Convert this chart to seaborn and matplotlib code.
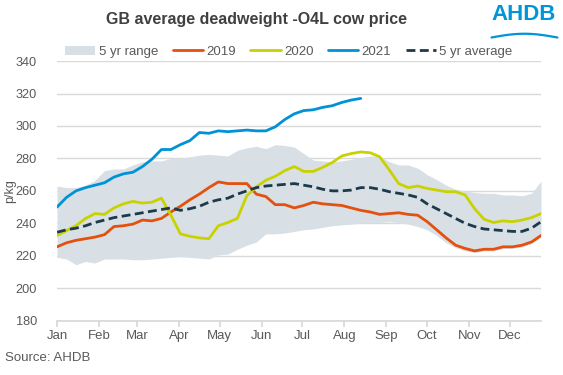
import numpy as np
import pandas as pd
import seaborn as sns
import matplotlib.pyplot as plt
from matplotlib.patches import Patch
from matplotlib.lines import Line2D

# weekly GB deadweight O4L cow prices (p/kg)
weeks = list(range(52))
p2019 = [225.5, 228, 229.5, 230.5, 231.5, 233, 238, 238.5, 239.5, 242, 241.5, 243,
         247, 250.5, 254.5, 258, 262, 265.5, 264.5, 264.5, 264.5, 258, 256.5, 251.5,
         251.5, 249.5, 251, 253, 252, 251.5, 251, 249.5, 248, 247, 245.5, 246,
         246.5, 245.5, 245, 241, 236, 231, 226.5, 224.5, 223, 224, 224, 225.5,
         225.5, 226.5, 228.5, 232.5]
p2020 = [232.5, 235.5, 238.5, 243, 246, 245.5, 249.5, 252, 253.5, 252.5, 253, 255.5,
         245, 233.5, 232, 231, 230.5, 238.5, 240.5, 243, 257, 262.5, 266.5, 269,
         272.5, 275, 272, 272, 274.5, 277.5, 281.5, 283, 284, 283.5, 281, 273,
         264.5, 262, 263, 261.5, 260.5, 259.5, 259.5, 257.5, 249, 242.5, 240.5, 241.5,
         241, 242, 243.5, 246]
p2021 = [250, 256, 260, 262, 263.5, 265, 268.5, 270.5, 271.5, 275, 279.5, 285.5,
         285.5, 288.5, 291, 296, 295.5, 297, 296.5, 297, 297.5, 297, 297, 299.5,
         304, 307.5, 309.5, 310, 311.5, 312.5, 314.5, 316, 317]
avg5 = [234.5, 236, 237, 238.5, 240.5, 242, 243.5, 244.5, 245.5, 246.5, 247.5, 248.5,
        249.5, 248, 249, 250.5, 253, 254.5, 255.5, 258, 260, 262, 263, 263.5,
        264, 264.5, 263.5, 262.5, 261, 260, 260, 260.5, 262, 262, 261, 259.5,
        258.5, 257.5, 256, 252, 249, 246, 243, 240, 238, 236.5, 236, 235.5,
        235, 235, 237, 241]
range_hi = [263, 262, 262, 263.5, 266.5, 272.5, 273.5, 273.5, 276, 278, 278.5, 278.5,
            280, 280, 281, 282, 282.5, 282, 281.5, 285, 286.5, 287.5, 286, 288.5,
            288, 287, 283, 279, 278.5, 278, 278.5, 279.5, 280.5, 281.5, 281.5, 278,
            276, 276, 274, 270, 267, 263.5, 261, 260, 259, 258.5, 258.5, 257.5,
            257.5, 257, 258.5, 266]
range_lo = [219, 218, 214.5, 216.5, 215.5, 218, 218, 218, 217.5, 217.5, 218, 218.5,
            219, 219.5, 219, 218.5, 218, 220.5, 221, 224, 226.5, 228.5, 233.5, 233.5,
            234, 235, 236, 236.5, 237.5, 238.5, 239, 239.5, 240, 240.5, 240.5, 241,
            240.5, 239.5, 238, 236, 232.5, 228, 225, 223, 222, 223, 223, 224.5,
            224.5, 225.5, 227.5, 231.5]
months = ["Jan", "Feb", "Mar", "Apr", "May", "Jun", "Jul", "Aug", "Sep", "Oct", "Nov", "Dec"]
month_start_days = [0, 31, 59, 90, 120, 151, 181, 212, 243, 273, 304, 334]

colours = {"2019": "#E4500E", "2020": "#C9D200", "2021": "#0092D6"}
avg_col = "#1B3A4B"
band_col = "#D8E0E5"
grey = "#595959"

df = pd.concat([
    pd.DataFrame({"week": weeks, "price": p2019, "year": "2019"}),
    pd.DataFrame({"week": weeks, "price": p2020, "year": "2020"}),
    pd.DataFrame({"week": weeks[:len(p2021)], "price": p2021, "year": "2021"}),
])

sns.set_theme(style="white")
plt.rcParams["font.family"] = ["Liberation Sans", "DejaVu Sans"]

fig = plt.figure(figsize=(5.63, 3.75), dpi=100)
ax = fig.add_axes([0.1013, 0.145, 0.8597, 0.692])

ax.fill_between(weeks, range_lo, range_hi, color=band_col, lw=0, zorder=1)
sns.lineplot(data=df, x="week", y="price", hue="year", palette=colours,
             linewidth=2.0, legend=False, ax=ax, zorder=3)
sns.lineplot(x=weeks, y=avg5, color=avg_col, linewidth=2.0, ax=ax, zorder=4)
ax.lines[-1].set_dashes([3.2, 1.6])

ax.set_xlim(0, 51)
ax.set_ylim(180, 340)
ax.set_yticks(range(180, 341, 20))
ax.set_xticks([d / 7 for d in month_start_days])
ax.set_xticklabels(months)
ax.grid(axis="y", color="#D9D9D9", linewidth=1)
ax.set_axisbelow(True)
for s in ["top", "right", "left"]:
    ax.spines[s].set_visible(False)
ax.spines["bottom"].set_color("#D9D9D9")
ax.tick_params(axis="x", bottom=True, length=4, color="#D9D9D9", labelsize=9.5,
               labelcolor=grey, pad=3)
ax.tick_params(axis="y", left=False, labelsize=9.2, labelcolor=grey, pad=8.5)
ax.set_xlabel("")
ax.set_ylabel("")
fig.text(0.018, 0.491, "p/kg", rotation=90, ha="center", va="center",
         fontsize=9, color=grey)

fig.text(0.455, 0.948, "GB average deadweight -O4L cow price", ha="center",
         va="center", fontsize=11.5, fontweight="bold", color="#404040")
fig.text(0.988, 0.962, "AHDB", ha="right", va="center", fontsize=16,
         fontweight="bold", color="#0094D8")
wx = np.linspace(0.873, 0.99, 40)
fig.add_artist(Line2D(wx, 0.9 + 0.01 * np.sin((wx - 0.873) / 0.117 * np.pi),
                      color="#0094D8", lw=1.6))

fig.text(0.009, 0.045, "Source: AHDB", ha="left", va="center", fontsize=9.5, color=grey)

handles = [Patch(facecolor=band_col, edgecolor="none"),
           Line2D([], [], color=colours["2019"], lw=2),
           Line2D([], [], color=colours["2020"], lw=2),
           Line2D([], [], color=colours["2021"], lw=2),
           Line2D([], [], color=avg_col, lw=2, dashes=[3.2, 1.6])]
labels = ["5 yr range", "2019", "2020", "2021", "5 yr average"]
fig.legend(handles, labels, loc="center", bbox_to_anchor=(0.513, 0.862), ncol=5,
           frameon=False, fontsize=9.5, handlelength=2.3, handletextpad=0.25,
           columnspacing=1.1, labelcolor=grey)

fig.savefig("out.png", dpi=100)
